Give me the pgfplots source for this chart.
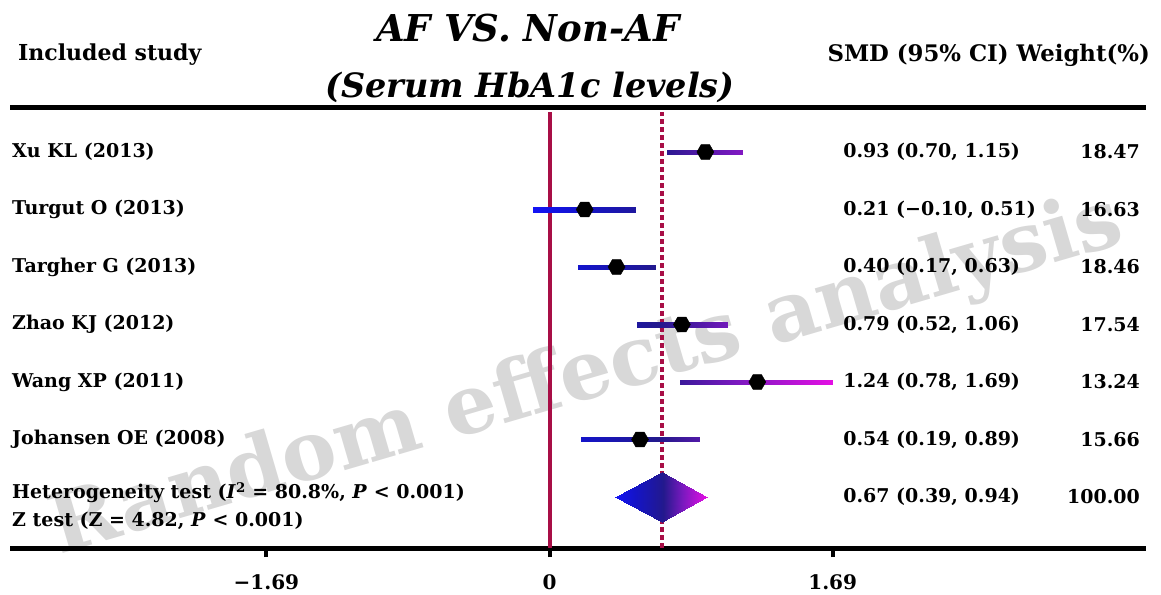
\documentclass[border=0pt]{standalone}
\usepackage{pgfplots}
\pgfplotsset{compat=1.18}
\usepackage{fontspec}
\setmainfont{DejaVu Serif}
\definecolor{crim}{RGB}{168,14,70}
\definecolor{wm}{RGB}{216,216,216}
\pgfdeclareplotmark{hex*}{%
  \pgfpathmoveto{\pgfpointpolar{0}{\pgfplotmarksize}}%
  \pgfpathlineto{\pgfpointpolar{60}{\pgfplotmarksize}}%
  \pgfpathlineto{\pgfpointpolar{120}{\pgfplotmarksize}}%
  \pgfpathlineto{\pgfpointpolar{180}{\pgfplotmarksize}}%
  \pgfpathlineto{\pgfpointpolar{240}{\pgfplotmarksize}}%
  \pgfpathlineto{\pgfpointpolar{300}{\pgfplotmarksize}}%
  \pgfpathclose
  \pgfusepathqfillstroke}
\pgfplotstableread{
x y
0.93 7
0.21 6
0.40 5
0.79 4
1.24 3
0.54 2
}\points
\tikzset{txt/.style={font=\bfseries\fontsize{19}{22}\selectfont, inner sep=0pt}}
\begin{document}
\begin{tikzpicture}[x=1pt,y=1pt]
\useasboundingbox (0,0) rectangle (1161,594);
% watermark (behind everything)
\node[rotate=16.3, text=wm, font=\bfseries\fontsize{82}{84}\selectfont] at (587,217) {Random effects analysis};
% headers
\node[txt, font=\bfseries\fontsize{22}{24}\selectfont, anchor=west] at (18,539) {Included study};
\node[txt, font=\bfseries\fontsize{22.8}{24}\selectfont, anchor=east] at (1150,539) {SMD (95\% CI) Weight(\%)};
\node[font=\bfseries\itshape\fontsize{37}{40}\selectfont, inner sep=0pt] at (528,566) {AF VS. Non-AF};
\node[font=\bfseries\itshape\fontsize{33.5}{40}\selectfont, inner sep=0pt] at (530,507) {(Serum HbA1c levels)};
\begin{axis}[
  at={(10pt,46pt)}, anchor=south west,
  scale only axis, width=1136pt, height=440pt,
  xmin=-3.22, xmax=3.56, ymin=0.113, ymax=7.765,
  clip=false,
  separate axis lines,
  x axis line style={line width=5pt, black},
  y axis line style={draw=none},
  xtick={-1.69,0,1.69},
  xticklabels={−1.69,0,1.69},
  xtick pos=left, xtick align=outside,
  major tick length=9pt,
  every tick/.style={black, line width=4pt},
  ytick=\empty,
  xticklabel style={font=\bfseries\fontsize{20}{24}\selectfont, yshift=-14pt},
  colormap={fp}{rgb255(0cm)=(20,20,245); rgb255(3cm)=(20,20,200); rgb255(7.5cm)=(35,25,140); rgb255(12cm)=(120,25,190); rgb255(17.9cm)=(228,15,228)},
  point meta min=-0.1, point meta max=1.69,
]
% reference lines
\addplot[crim, line width=4pt] coordinates {(0,0.12) (0,7.7)};
\addplot[crim, line width=4pt, dash pattern=on 5pt off 3pt] coordinates {(0.67,0.12) (0.67,7.7)};
% CI bars as thin gradient patches
\addplot[patch, patch type=rectangle, shader=interp, point meta=explicit] table[meta=c] {
x y c
0.70 6.957 0.70
1.15 6.957 1.15
1.15 7.043 1.15
0.70 7.043 0.70
-0.10 5.957 -0.10
0.51 5.957 0.51
0.51 6.043 0.51
-0.10 6.043 -0.10
0.17 4.957 0.17
0.63 4.957 0.63
0.63 5.043 0.63
0.17 5.043 0.17
0.52 3.957 0.52
1.06 3.957 1.06
1.06 4.043 1.06
0.52 4.043 0.52
0.78 2.957 0.78
1.69 2.957 1.69
1.69 3.043 1.69
0.78 3.043 0.78
0.19 1.957 0.19
0.89 1.957 0.89
0.89 2.043 0.89
0.19 2.043 0.19
};
% pooled diamond
\addplot[patch, patch type=rectangle, shader=interp, point meta=explicit] table[meta=c] {
x y c
0.39 1.0 -0.10
0.67 0.565 0.62
0.94 1.0 1.69
0.67 1.435 0.62
};
% point estimates
\addplot[only marks, mark=hex*, mark size=8.5pt, mark options={fill=black, draw=black}] table {\points};
% study labels
\node[txt, anchor=west] at (axis cs:-3.208,7) {Xu KL (2013)};
\node[txt, anchor=west] at (axis cs:-3.208,6) {Turgut O (2013)};
\node[txt, anchor=west] at (axis cs:-3.208,5) {Targher G (2013)};
\node[txt, anchor=west] at (axis cs:-3.208,4) {Zhao KJ (2012)};
\node[txt, anchor=west] at (axis cs:-3.208,3) {Wang XP (2011)};
\node[txt, anchor=west] at (axis cs:-3.208,2) {Johansen OE (2008)};
\node[txt, anchor=west] at (axis cs:-3.208,1.07) {Heterogeneity test (\textit{I}\textsuperscript{2} = 80.8\%, \textit{P} < 0.001)};
\node[txt, anchor=west] at (axis cs:-3.208,0.58) {Z test (Z = 4.82, \textit{P} < 0.001)};
% SMD column
\node[txt, anchor=west] at (axis cs:1.752,7) {0.93 (0.70, 1.15)};
\node[txt, anchor=west] at (axis cs:1.752,6) {0.21 (−0.10, 0.51)};
\node[txt, anchor=west] at (axis cs:1.752,5) {0.40 (0.17, 0.63)};
\node[txt, anchor=west] at (axis cs:1.752,4) {0.79 (0.52, 1.06)};
\node[txt, anchor=west] at (axis cs:1.752,3) {1.24 (0.78, 1.69)};
\node[txt, anchor=west] at (axis cs:1.752,2) {0.54 (0.19, 0.89)};
\node[txt, anchor=west] at (axis cs:1.752,1) {0.67 (0.39, 0.94)};
% weights
\node[txt, anchor=east] at (axis cs:3.524,7) {18.47};
\node[txt, anchor=east] at (axis cs:3.524,6) {16.63};
\node[txt, anchor=east] at (axis cs:3.524,5) {18.46};
\node[txt, anchor=east] at (axis cs:3.524,4) {17.54};
\node[txt, anchor=east] at (axis cs:3.524,3) {13.24};
\node[txt, anchor=east] at (axis cs:3.524,2) {15.66};
\node[txt, anchor=east] at (axis cs:3.524,1) {100.00};
\end{axis}
\end{tikzpicture}
\end{document}
